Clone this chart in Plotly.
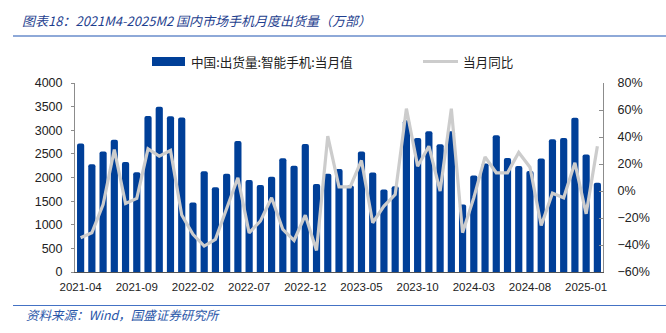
import plotly.graph_objects as go

# Monthly smartphone shipments in China (10k units) and year-over-year change (%)
months = [
    "2021-04", "2021-05", "2021-06", "2021-07", "2021-08", "2021-09", "2021-10", "2021-11", "2021-12",
    "2022-01", "2022-02", "2022-03", "2022-04", "2022-05", "2022-06", "2022-07", "2022-08", "2022-09",
    "2022-10", "2022-11", "2022-12", "2023-01", "2023-02", "2023-03", "2023-04", "2023-05", "2023-06",
    "2023-07", "2023-08", "2023-09", "2023-10", "2023-11", "2023-12", "2024-01", "2024-02", "2024-03",
    "2024-04", "2024-05", "2024-06", "2024-07", "2024-08", "2024-09", "2024-10", "2024-11", "2024-12",
    "2025-01", "2025-02",
]
shipments = [
    2720, 2280, 2550, 2800, 2330, 2110, 3300, 3500, 3295,
    3270, 1470, 2130, 1795, 2077, 2775, 1945, 1840, 2015,
    2410, 2248, 2710, 1860, 2077, 2180, 1832, 2548, 2105,
    1746, 1816, 3210, 2837, 2978, 2703, 2978, 1429, 2042,
    2295, 2893, 2415, 2246, 2140, 2401, 2809, 2837, 3267,
    2485, 1887,
]
yoy = [
    -34.6, -30.9, -10.0, 30.7, -9.2, -5.5, 31.2, 25.8, 30.0,
    -17.8, -32.1, -40.8, -35.8, -13.7, 9.8, -31.0, -22.3, -5.0,
    -28.5, -36.6, -17.9, -44.0, 40.6, 3.0, 3.0, 22.6, -23.5,
    -11.2, -2.6, 61.0, 18.4, 33.2, 0.0, 61.0, -30.9, -5.0,
    25.3, 13.5, 13.5, 28.5, 17.6, -25.5, -1.6, -5.0, 20.9,
    -16.9, 33.2,
]
label_months = months[::5]

bar_name = "中国:出货量:智能手机:当月值"
line_name = "当月同比"
title_text = "图表18：2021M4-2025M2 国内市场手机月度出货量（万部）"
source_text = "资料来源：Wind，国盛证券研究所"

BAR_COLOR = "#003f98"
LINE_COLOR = "#cccccc"
TITLE_COLOR = "#1f3f8f"
CJK = "Noto Sans CJK SC"
LATIN = "Liberation Sans, Arial, sans-serif"

fig = go.Figure()
fig.add_trace(go.Bar(
    x=months, y=shipments, name=bar_name,
    marker=dict(color=BAR_COLOR, line=dict(width=0), cornerradius=2),
    width=0.64, showlegend=False,
))
fig.add_trace(go.Scatter(
    x=months, y=yoy, name=line_name, yaxis="y2", mode="lines",
    line=dict(color=LINE_COLOR, width=3.2), showlegend=False,
))

fig.update_layout(
    width=666, height=333,
    margin=dict(l=75, r=63, t=83, b=61),
    paper_bgcolor="white", plot_bgcolor="white",
    font=dict(family=LATIN, size=12, color="#222222"),
    bargap=0.36,
    xaxis=dict(
        type="category", categoryorder="array", categoryarray=months,
        range=[-0.5, len(months) - 0.5],
        tickmode="array", tickvals=label_months, ticktext=label_months,
        showline=True, linecolor="#555555", linewidth=1,
        ticks="", showgrid=False, zeroline=False,
        tickfont=dict(size=11.5), ticklabelstandoff=4,
    ),
    yaxis=dict(
        range=[0, 4000], dtick=500, showgrid=False, zeroline=False,
        showline=True, linecolor="#8c8c8c", linewidth=1,
        ticks="outside", ticklen=3, tickcolor="#8c8c8c",
        tickfont=dict(size=12.5), ticklabelstandoff=6,
    ),
    yaxis2=dict(
        range=[-60, 80], dtick=20, ticksuffix="%", overlaying="y", side="right",
        showgrid=False, zeroline=False,
        showline=True, linecolor="#8c8c8c", linewidth=1,
        ticks="inside", ticklen=4, tickcolor="#8c8c8c",
        tickfont=dict(size=12.5), ticklabelstandoff=11,
    ),
)

# Hand-built legend: wide swatch for the bars, a short stroke for the line
fig.add_shape(type="rect", xref="paper", yref="paper",
              x0=(152 - 75) / 528, x1=(185 - 75) / 528,
              y0=(272 - 66) / 189, y1=(272 - 57) / 189,
              fillcolor=BAR_COLOR, line=dict(width=0))
fig.add_annotation(xref="paper", yref="paper", x=(189 - 75) / 528, y=(272 - 61.5) / 189,
                   text=bar_name, showarrow=False, xanchor="left", yanchor="middle",
                   font=dict(family=CJK, size=12.6, color="#222222"))
fig.add_shape(type="line", xref="paper", yref="paper",
              x0=(423 - 75) / 528, x1=(458 - 75) / 528,
              y0=(272 - 61.5) / 189, y1=(272 - 61.5) / 189,
              line=dict(color=LINE_COLOR, width=3.2))
fig.add_annotation(xref="paper", yref="paper", x=(461 - 75) / 528, y=(272 - 61.5) / 189,
                   text=line_name, showarrow=False, xanchor="left", yanchor="middle",
                   font=dict(family=CJK, size=12.6, color="#222222"))

# Title, rules and source note
fig.add_annotation(xref="paper", yref="paper", x=(20 - 75) / 528, y=(272 - 20) / 189,
                   text=title_text, showarrow=False, xanchor="left", yanchor="middle",
                   font=dict(family=CJK, size=13, color=TITLE_COLOR, style="italic"))
fig.add_shape(type="line", xref="paper", yref="paper",
              x0=(13 - 75) / 528, x1=(666 - 75) / 528,
              y0=(272 - 36) / 189, y1=(272 - 36) / 189,
              line=dict(color="#8ea9d8", width=2))
fig.add_shape(type="line", xref="paper", yref="paper",
              x0=(13 - 75) / 528, x1=(666 - 75) / 528,
              y0=(272 - 305.5) / 189, y1=(272 - 305.5) / 189,
              line=dict(color="#4472c4", width=1.2))
fig.add_annotation(xref="paper", yref="paper", x=(24 - 75) / 528, y=(272 - 314) / 189,
                   text=source_text, showarrow=False, xanchor="left", yanchor="middle",
                   font=dict(family=CJK, size=12.5, color="#2856a8", style="italic"))

fig.write_html("out.html")
